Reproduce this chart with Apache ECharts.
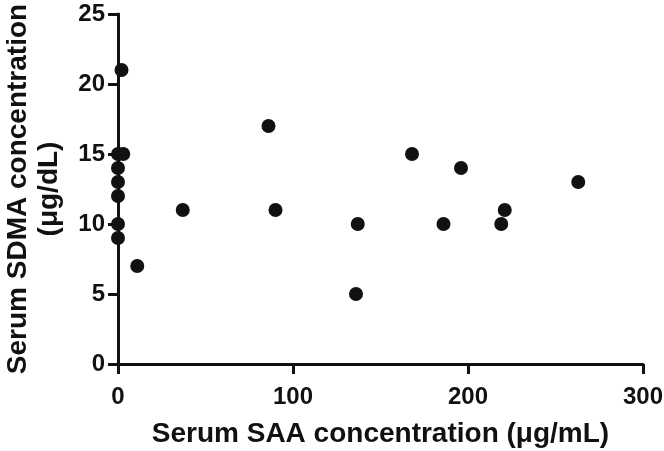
<!DOCTYPE html>
<html>
<head>
<meta charset="utf-8">
<script src="https://cdn.jsdelivr.net/npm/echarts@6/dist/echarts.min.js"></script>
<style>
  html, body { margin: 0; padding: 0; background: #fff; }
  #chart { width: 664px; height: 451px; }
</style>
</head>
<body>
<div id="chart"></div>
<script>
// serum SAA (x) vs serum SDMA (y)
const saa = [2, 0, 3, 0, 0, 0, 0, 0, 11, 37, 86, 90, 136, 137, 168, 186, 196, 219, 221, 263]
const sdma = [21, 15, 15, 14, 13, 12, 10, 9, 7, 11, 17, 11, 5, 10, 15, 10, 14, 10, 11, 13]
const xTicks = [0, 100, 200, 300]
const yTicks = [0, 5, 10, 15, 20, 25]

const font = 'Liberation Sans, Arial, sans-serif'
const axisText = { color: '#111', fontSize: 24, fontWeight: 'bold', fontFamily: font }
const titleText = { ...axisText, fontSize: 28 }

const chart = echarts.init(document.getElementById('chart'))
chart.setOption({
  backgroundColor: '#fff',
  animation: false,
  grid: { left: 118, right: 21, top: 14, bottom: 87, containLabel: false, outerBoundsMode: 'none' },
  xAxis: {
    type: 'value',
    min: xTicks[0],
    max: xTicks[xTicks.length - 1],
    interval: 100,
    name: 'Serum SAA concentration (μg/mL)',
    nameLocation: 'middle',
    nameGap: 56,
    nameTextStyle: { ...titleText, verticalAlign: 'top' },
    axisLine: { lineStyle: { color: '#111', width: 3 } },
    axisTick: { show: true, length: 10, lineStyle: { color: '#111', width: 3 } },
    axisLabel: { ...axisText, margin: 21 },
    splitLine: { show: false },
  },
  yAxis: {
    type: 'value',
    min: yTicks[0],
    max: yTicks[yTicks.length - 1],
    interval: 5,
    name: 'Serum SDMA concentration\n(μg/dL)',
    nameLocation: 'middle',
    nameRotate: 90,
    nameGap: 53,
    nameTextStyle: { ...titleText, lineHeight: 31 },
    axisLine: { show: true, lineStyle: { color: '#111', width: 3 } },
    axisTick: { show: true, length: 10, lineStyle: { color: '#111', width: 3 } },
    axisLabel: { ...axisText, margin: 13 },
    splitLine: { show: false },
  },
  series: [
    {
      type: 'scatter',
      symbol: 'circle',
      symbolSize: 14,
      itemStyle: { color: '#111', opacity: 1 },
      data: saa.map((x, i) => [x, sdma[i]]),
    },
  ],
})
</script>
</body>
</html>
